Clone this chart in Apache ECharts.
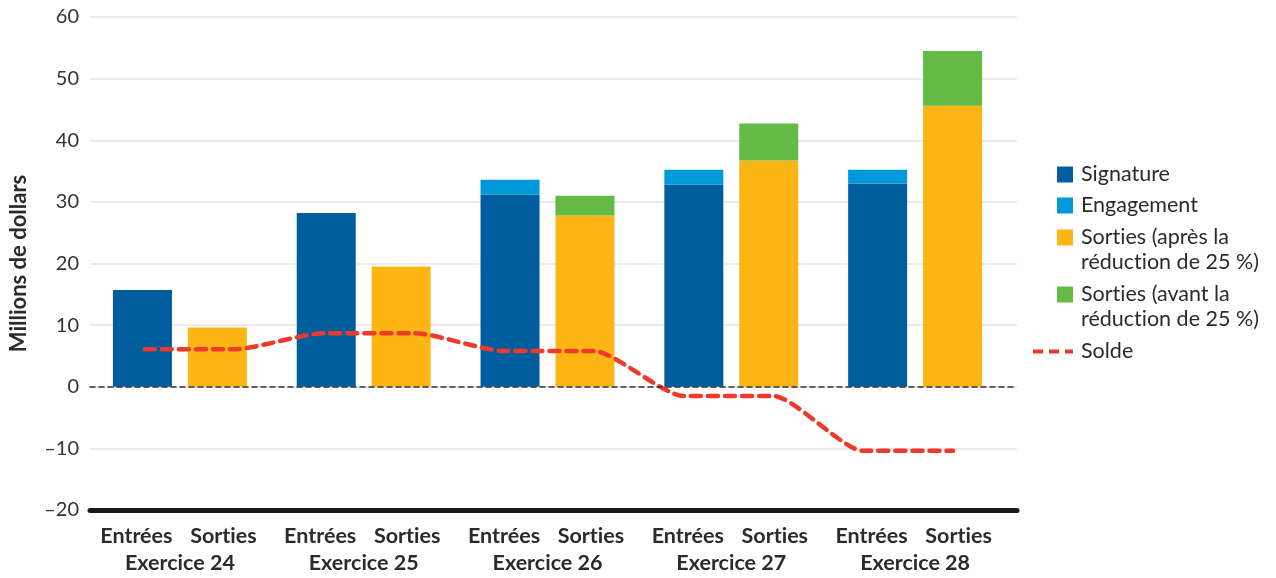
<!DOCTYPE html>
<html>
<head>
<meta charset="utf-8">
<script src="https://cdn.jsdelivr.net/npm/echarts@6/dist/echarts.min.js"></script>
<style>
html,body{margin:0;padding:0;background:#fff;}
#chart{width:1276px;height:578px;}
</style>
</head>
<body>
<div id="chart"></div>
<script>
// ---- Data ----
const years = ['Exercice 24', 'Exercice 25', 'Exercice 26', 'Exercice 27', 'Exercice 28'];
const signature = [15.7, 28.2, 31.2, 32.8, 33.0];
const engagement = [0, 0, 2.4, 2.4, 2.2];
const sortiesApres = [9.6, 19.5, 27.8, 36.7, 45.6];
const sortiesAvant = [0, 0, 3.2, 6.0, 8.9];
const soldePoints = ['E24', 'S24', 'E25', 'S25', 'E26', 'S26', 'E27', 'S27', 'E28', 'S28'];
const solde = [6.1, 6.1, 8.7, 8.7, 5.8, 5.8, -1.5, -1.5, -10.4, -10.4];
const yTicks = { min: -20, max: 60, interval: 10 };

const FONT = 'Lato, "Open Sans", sans-serif';
const TXT = '#2b2b2b';
const C_SIG = '#005e9e', C_ENG = '#0099da', C_APR = '#fdb515', C_AVA = '#64bb46', C_SOL = '#ee3a2c';
// zero-width non-joiner between "t" and "i" avoids the font's "ti" ligature
const noLig = (s) => s.replace(/ti/g, 't\u200Ci');

const chart = echarts.init(document.getElementById('chart'), null, { renderer: 'canvas' });

const legendBase = (extra) => Object.assign({
  orient: 'vertical', padding: 0, itemGap: 7, itemWidth: 19, itemHeight: 16,
  selectedMode: false,
  textStyle: { fontFamily: FONT, fontSize: 21.5, color: TXT, lineHeight: 25 }
}, extra);

const oneLineIcon = 'path://M0,0L16,0L16,16L0,16Z M19,16L19,16';
const twoLineIcon = 'path://M0,0L16,0L16,16L0,16Z M19,41L19,41';
const dashIcon = 'path://M0,0L10,0L10,4L0,4Z M16,0L26,0L26,4L16,4Z M32,0L40,0L40,4L32,4Z M43,4L43,4';

const option = {
  animation: false,
  backgroundColor: '#fff',
  grid: [
    { left: 87, right: 259, top: 17, bottom: 68 },   // decor grid (gridlines, axes)
    { left: 88, right: 269, top: 17, bottom: 68 },   // bars
    { left: 100, right: 278, top: 17, bottom: 68 }   // solde line
  ],
  xAxis: [
    { gridIndex: 0, type: 'value', min: 0, max: 1, position: 'bottom',
      axisLine: { show: true, onZero: false, lineStyle: { color: '#1a1a1a', width: 5 } },
      axisTick: { show: false }, axisLabel: { show: false }, splitLine: { show: false } },
    { gridIndex: 0, type: 'value', min: 0, max: 1, position: 'top', z: 10,
      axisLine: { show: true, onZero: true, lineStyle: { color: '#333', width: 1.5, type: [5, 4] } },
      axisTick: { show: false }, axisLabel: { show: false }, splitLine: { show: false } },
    { gridIndex: 1, type: 'category', data: years,
      axisLine: { show: false }, axisTick: { show: false },
      axisLabel: {
        margin: 13, interval: 0,
        formatter: (v) => '{a|Entrées}{b|' + noLig('Sorties') + '}\n{c|' + v + '}',
        rich: {
          a: { fontFamily: FONT, fontWeight: 'bold', fontSize: 21.5, color: TXT, width: 87, align: 'center', lineHeight: 27 },
          b: { fontFamily: FONT, fontWeight: 'bold', fontSize: 21.5, color: TXT, width: 87, align: 'center', lineHeight: 27 },
          c: { fontFamily: FONT, fontWeight: 'bold', fontSize: 21.5, color: TXT, align: 'center', lineHeight: 27 }
        }
      },
      splitLine: { show: false } },
    { gridIndex: 2, type: 'category', data: soldePoints, show: false }
  ],
  yAxis: [
    { gridIndex: 0, type: 'value', min: yTicks.min, max: yTicks.max, interval: yTicks.interval,
      name: 'Millions de dollars', nameLocation: 'middle', nameGap: 60, nameRotate: 90,
      nameTextStyle: { fontFamily: FONT, fontWeight: 'bold', fontSize: 22, color: TXT },
      axisLine: { show: false }, axisTick: { show: false },
      axisLabel: { margin: 11, fontFamily: FONT, fontSize: 20, color: '#333',
        formatter: (v) => String(v).replace('-', '–') },
      splitLine: { show: true, lineStyle: { color: '#e3e3e3', width: 1.5 } } },
    { gridIndex: 1, type: 'value', min: yTicks.min, max: yTicks.max, interval: yTicks.interval, show: false,
      splitLine: { show: false } },
    { gridIndex: 2, type: 'value', min: yTicks.min, max: yTicks.max, interval: yTicks.interval, show: false,
      splitLine: { show: false } }
  ],
  legend: [
    legendBase({ left: 1057, top: 162, data: [{ name: 'Signature', icon: oneLineIcon }] }),
    legendBase({ left: 1057, top: 193, data: [{ name: 'Engagement', icon: oneLineIcon }] }),
    legendBase({ left: 1057, top: 225, itemHeight: 41, data: [{ name: 'Sorties (après la réduction de 25 %)', icon: twoLineIcon }],
      formatter: () => noLig('Sorties (après la\nréduction de 25 %)') }),
    legendBase({ left: 1057, top: 282, itemHeight: 41, data: [{ name: 'Sorties (avant la réduction de 25 %)', icon: twoLineIcon }],
      formatter: () => noLig('Sorties (avant la\nréduction de 25 %)') }),
    legendBase({ left: 1033, top: 339, itemWidth: 43, itemHeight: 4, data: [{ name: 'Solde', icon: dashIcon }] })
  ],
  series: [
    { name: 'Signature', type: 'bar', stack: 'in', xAxisIndex: 2, yAxisIndex: 1,
      barWidth: 59, barGap: '27%', itemStyle: { color: C_SIG }, data: signature },
    { name: 'Engagement', type: 'bar', stack: 'in', xAxisIndex: 2, yAxisIndex: 1,
      barWidth: 59, barGap: '27%', itemStyle: { color: C_ENG }, data: engagement },
    { name: 'Sorties (après la réduction de 25 %)', type: 'bar', stack: 'out', xAxisIndex: 2, yAxisIndex: 1,
      barWidth: 59, barGap: '27%', itemStyle: { color: C_APR }, data: sortiesApres },
    { name: 'Sorties (avant la réduction de 25 %)', type: 'bar', stack: 'out', xAxisIndex: 2, yAxisIndex: 1,
      barWidth: 59, barGap: '27%', itemStyle: { color: C_AVA }, data: sortiesAvant },
    { name: 'Solde', type: 'line', xAxisIndex: 3, yAxisIndex: 2, z: 5,
      smooth: 0.22, smoothMonotone: 'x', symbol: 'none', showSymbol: false,
      lineStyle: { color: C_SOL, width: 4.5, type: [10, 7], cap: 'round' },
      itemStyle: { color: C_SOL },
      data: solde }
  ]
};
chart.setOption(option);
</script>
</body>
</html>
